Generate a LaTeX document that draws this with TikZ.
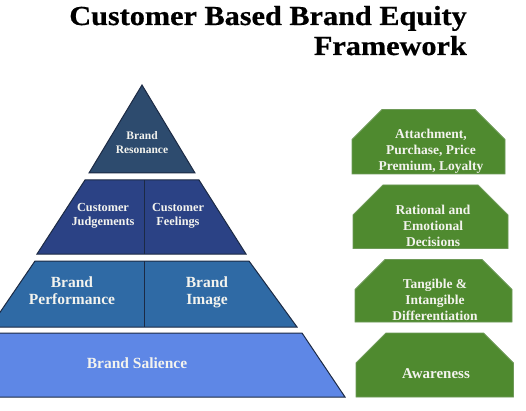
\documentclass[tikz,border=0pt]{standalone}
\usepackage{fontspec}
\setmainfont{Liberation Serif}
\newfontfamily\titlefont[FakeStretch=1.1,FakeBold=0.6]{Liberation Serif}
\definecolor{tA}{HTML}{2D4B6E}
\definecolor{tB}{HTML}{2B4285}
\definecolor{tC}{HTML}{2F6AA5}
\definecolor{tD}{HTML}{5E87E6}
\definecolor{edgec}{HTML}{1C2A44}
\definecolor{grn}{HTML}{4F8A2F}
\definecolor{grnedge}{HTML}{6E9A58}
\definecolor{txt}{HTML}{F3F3EE}
\begin{document}
\begin{tikzpicture}[x=1pt,y=-1pt,
  tier/.style={draw=edgec, line width=1pt, line join=miter},
  divider/.style={draw=edgec, line width=1pt},
  ptext/.style={text=txt, font=\bfseries, align=center, inner sep=0pt, text depth=0pt},
  gbox/.style={fill=grn, draw=grnedge, line width=0.8pt},
  gtext/.style={text=txt, font=\bfseries\fontsize{13.5}{16}\selectfont, align=center, inner sep=0pt, text depth=0pt},
  ttl/.style={anchor=base east, inner sep=0pt, font=\titlefont\bfseries\fontsize{27.5}{30}\selectfont}]
\useasboundingbox (0,0) rectangle (526,411);
\fill[white] (0,0) rectangle (526,411);
\clip (0,0) rectangle (526,411);

% title
\node[ttl] (title1) at (467,25) {Customer Based Brand Equity};
\node[ttl] (title2) at (467,55) {Framework};

% pyramid
\path[tier, fill=tA] (142,85) -- (195,173) -- (89,173) -- cycle;
\path[tier, fill=tB] (85,180) -- (199,180) -- (246,254) -- (37,254) -- cycle;
\path[divider] (144,180) -- (144,254);
\path[tier, fill=tC] (35,261) -- (249,261) -- (297,327) -- (-10,327) -- cycle;
\path[divider] (144,261) -- (144,327);
\path[tier, fill=tD] (-18,333) -- (302,333) -- (345,397) -- (-62,397) -- cycle;

\node[ptext, font=\bfseries\fontsize{11.5}{14.5}\selectfont] (reso) at (142,142.5) {Brand\\Resonance};
\node[ptext, font=\bfseries\fontsize{12.3}{14}\selectfont] (judg) at (103,214) {Customer\\Judgements};
\node[ptext, font=\bfseries\fontsize{12.3}{14}\selectfont] (feel) at (178,214) {Customer\\Feelings};
\node[ptext, font=\bfseries\fontsize{15.5}{17}\selectfont] (perf) at (72,290.5) {Brand\\Performance};
\node[ptext, font=\bfseries\fontsize{15.5}{17}\selectfont] (imag) at (207,290.5) {Brand\\Image};
\node[ptext, font=\bfseries\fontsize{15.5}{17}\selectfont] (sali) at (137,363) {Brand Salience};

% green boxes
\path[gbox] (352,139.5) -- (382,109.5) -- (475,109.5) -- (505,139.5) -- (505,174) -- (352,174) -- cycle;
\path[gbox] (353,215) -- (383,185) -- (478,185) -- (508,215) -- (508,248.5) -- (353,248.5) -- cycle;
\path[gbox] (355,289.5) -- (385,259.5) -- (482,259.5) -- (512,289.5) -- (512,322) -- (355,322) -- cycle;
\path[gbox] (356,363) -- (386,333) -- (483.5,333) -- (513.5,363) -- (513.5,397) -- (356,397) -- cycle;

\node[gtext] (g1) at (431,150) {Attachment,\\Purchase, Price\\Premium, Loyalty};
\node[gtext] (g2) at (433,226) {Rational and\\Emotional\\Decisions};
\node[gtext] (g3) at (435,300) {Tangible \&\\Intangible\\Differentiation};
\node[gtext, font=\bfseries\fontsize{15}{17}\selectfont] (g4) at (436,374) {Awareness};
\end{tikzpicture}
\end{document}
